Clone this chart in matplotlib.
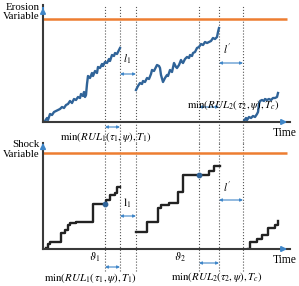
import matplotlib
matplotlib.use('Agg')
from matplotlib import pyplot as plt

plt.rcParams['font.family'] = ['Liberation Serif', 'DejaVu Serif']
plt.rcParams['mathtext.fontset'] = 'stix'

# event times (shared by both panels)
events = [62, 77, 93, 156, 176, 200]
threshold_ero = 103
threshold_shock = 96

# erosion paths
ero1_t = [2, 4, 5, 7, 9, 11, 13, 15, 17, 19, 21, 23, 25, 27, 29, 31, 33, 35, 37, 38,
          40, 41, 42, 43, 44, 45, 47, 49, 50, 52, 54, 55, 57, 59, 60, 62, 64, 66, 67, 69,
          71, 72, 74, 76, 77]
ero1_v = [1, 4, 2, 8, 7, 10, 11, 12, 13, 15, 14, 17, 18, 21, 19, 23, 22, 25, 24, 28,
          26, 30, 25, 27, 38, 46, 44, 49, 46, 51, 49, 55, 54, 58, 56, 60, 59, 63, 61, 67,
          66, 69, 68, 72, 74]
ero2_t = [93, 95, 97, 99, 100, 102, 104, 106, 108, 109, 111, 113, 114, 116, 117, 118,
          120, 122, 124, 125, 127, 129, 131, 133, 134, 136, 138, 139, 140, 142, 144, 146,
          147, 149, 150, 152, 154, 156, 158, 160, 162, 164, 166, 168, 170, 172, 174, 175, 176]
ero2_v = [32, 36, 39, 38, 41, 40, 44, 43, 48, 52, 51, 55, 57, 56, 54, 47,
          40, 44, 47, 46, 52, 50, 59, 55, 54, 57, 62, 60, 59, 63, 65, 64,
          67, 66, 69, 70, 74, 75, 78, 77, 80, 79, 80, 81, 84, 83, 85, 90, 94]
ero3_t = [201, 203, 204, 206, 208, 210, 212, 214, 215, 216, 217, 219, 221, 222, 224,
          226, 228, 230, 232, 234, 235]
ero3_v = [1, 4, 2, 5, 4, 6, 5, 8, 10, 18, 21, 22, 21, 23, 22, 23, 22, 24, 24, 25, 29]

# shock paths (step levels)
sh1_t = [3, 5, 7, 18, 22, 25, 27, 33, 50, 63, 67, 72, 74, 77]
sh1_v = [1, 5, 7, 16, 19, 24, 26, 27, 45, 49, 54, 56, 62, 62]
sh2_t = [93, 104, 115, 118, 126, 135, 140, 166, 171, 177]
sh2_v = [17, 27, 41, 44, 46, 57, 74, 78, 83, 83]
sh3_t = [205, 207, 214, 219, 225, 232, 235]
sh3_v = [0, 7, 10, 14, 21, 24, 28]
dots_t = [62, 156]
dots_v = [45, 74]

blue = '#2f6398'
arrow_blue = '#3f86c8'
orange = '#ed7d31'
axis_c = '#3a3a3a'
grid_c = '#555555'
fs = 7.8

fig = plt.figure(figsize=(2.99, 2.86), dpi=100)
ax1 = fig.add_axes([43/299, 1-122/286, 247/299, 117/286])
ax2 = fig.add_axes([43/299, 1-249/286, 247/299, 106/286])
ax1.set_xlim(0, 247); ax1.set_ylim(0, 117)
ax2.set_xlim(0, 247); ax2.set_ylim(0, 106)

for ax, ext in [(ax1, -0.18), (ax2, -0.21)]:
    for s in ['top', 'right']:
        ax.spines[s].set_visible(False)
    for s in ['left', 'bottom']:
        ax.spines[s].set_color(axis_c)
        ax.spines[s].set_linewidth(1.5)
    ax.set_xticks([]); ax.set_yticks([])
    ax.patch.set_alpha(0)
    for e in events:
        ax.axvline(e, ymin=ext, ymax=1, color=grid_c, ls=':', lw=0.8, clip_on=False, zorder=1)
    ax.annotate('', xy=(1.0, 0), xytext=(0.96, 0), xycoords='axes fraction',
                arrowprops=dict(arrowstyle='-|>', color=arrow_blue, lw=1.2, mutation_scale=8),
                annotation_clip=False)
    ax.annotate('', xy=(0, 1.0), xytext=(0, 0.95), xycoords='axes fraction',
                arrowprops=dict(arrowstyle='-|>', color=arrow_blue, lw=1.2, mutation_scale=8),
                annotation_clip=False)
    ax.text(1.025, -0.045, 'Time', transform=ax.transAxes, ha='right', va='top', fontsize=8.3)

def dbl(ax, t0, t1, v):
    ax.annotate('', xy=(t0, v), xytext=(t1, v),
                arrowprops=dict(arrowstyle='<|-|>', color=arrow_blue, lw=0.8, mutation_scale=4,
                                shrinkA=0, shrinkB=0),
                annotation_clip=False)

# top panel
ax1.hlines(threshold_ero, 0, 244, color=orange, lw=1.8)
ax1.plot(ero1_t, ero1_v, color=blue, lw=1.7)
ax1.plot(ero2_t, ero2_v, color=blue, lw=1.7)
ax1.plot(ero3_t, ero3_v, color=blue, lw=1.7)
dbl(ax1, 77, 93, 48)
dbl(ax1, 176, 200, 59)
dbl(ax1, 156, 176, 15)
dbl(ax1, 62, 77, -5)
ax1.text(84, 56, r'$l_1$', ha='center', va='bottom', fontsize=fs)
ax1.text(184, 65, r"$l'$", ha='center', va='bottom', fontsize=fs)
ax1.text(190, 17, r'$\min(RUL_2(\,\tau_2,\psi),T_c)$', ha='center', va='center', fontsize=fs)
ax1.text(63, -15, r'$\min(RUL_1(\tau_1,\psi),T_1)$', ha='center', va='center', fontsize=fs)
ax1.text(-0.015, 1.02, 'Erosion\nVariable', transform=ax1.transAxes, ha='right', va='top',
         fontsize=fs, linespacing=1.1)

# bottom panel
ax2.hlines(threshold_shock, 0, 244, color=orange, lw=1.8)
ax2.step(sh1_t, sh1_v, where='post', color='#222222', lw=1.7)
ax2.step(sh2_t, sh2_v, where='post', color='#222222', lw=1.7)
ax2.step(sh3_t, sh3_v, where='post', color='#222222', lw=1.7)
ax2.scatter(dots_t, dots_v, color=blue, s=10, zorder=5)
dbl(ax2, 77, 93, 33)
dbl(ax2, 176, 200, 49)
dbl(ax2, 62, 77, -18)
dbl(ax2, 156, 176, -14)
ax2.text(84, 39, r'$\mathrm{l}_1$', ha='center', va='bottom', fontsize=fs)
ax2.text(184, 54, r"$l'$", ha='center', va='bottom', fontsize=fs)
ax2.text(52, -8, r'$\vartheta_1$', ha='center', va='center', fontsize=fs)
ax2.text(137, -8, r'$\vartheta_2$', ha='center', va='center', fontsize=fs)
ax2.text(48, -29, r'$\min(RUL_1(\,\tau_1,\psi),T_1)$', ha='center', va='center', fontsize=fs)
ax2.text(174, -28, r'$\min(RUL_2(\tau_2,\psi),T_c)$', ha='center', va='center', fontsize=fs)
ax2.text(-0.015, 1.03, 'Shock\nVariable', transform=ax2.transAxes, ha='right', va='top',
         fontsize=fs, linespacing=1.1)

fig.savefig('out.png', dpi=100, facecolor='white')
